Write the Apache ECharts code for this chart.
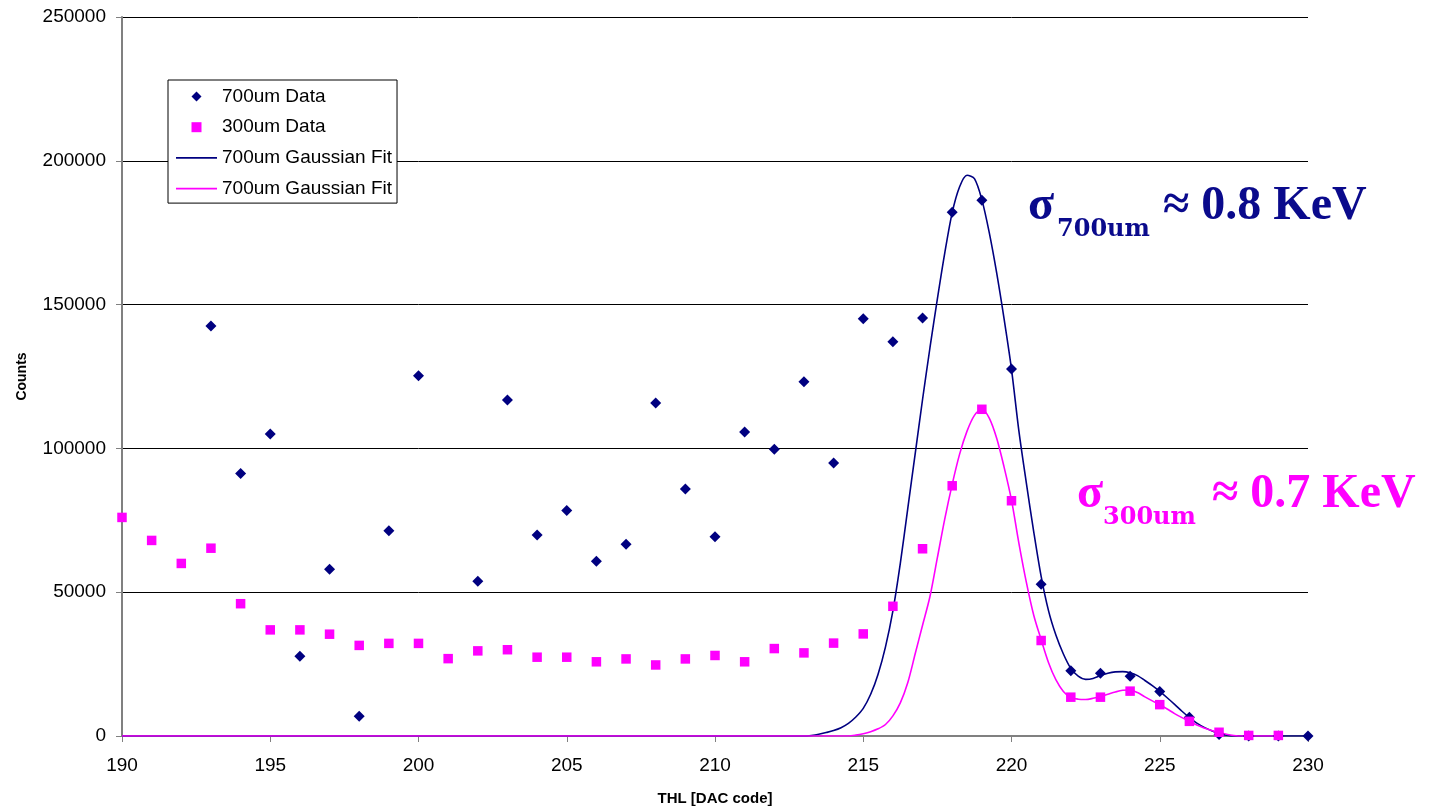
<!DOCTYPE html>
<html>
<head>
<meta charset="utf-8">
<script src="https://cdn.jsdelivr.net/npm/echarts@6/dist/echarts.min.js"></script>
<style>
  html, body { margin: 0; padding: 0; background: #fff; }
  #chart { width: 1430px; height: 811px; }
</style>
</head>
<body>
<div id="chart"></div>
<script>
// THL threshold scan (DAC code) and measured counts per threshold
const thl = [190,191,192,193,194,195,196,197,198,199,200,201,202,203,204,205,206,207,208,209,
             210,211,212,213,214,215,216,217,218,219,220,221,222,223,224,225,226,227,228,229,230];

const counts700 = [null,null,null,142600,91300,105000,27700,58000,6900,71400,125300,null,53800,116800,69900,78400,60800,66700,115800,85900,
                   69300,105700,99700,123200,94900,145100,137100,145300,182100,186300,127600,52800,22700,21800,20800,15500,6500,500,0,0,0];

const counts300 = [76000,68000,60000,65300,46000,36900,36900,35400,31500,32200,32200,26900,29600,30000,27400,27400,25800,26800,24700,26800,
                   28000,25800,30400,28900,32300,35500,45100,65100,87000,113600,81800,33200,13500,13500,15600,10900,5100,1300,200,200,null];

// Gaussian fit curves, sampled along THL
const fitX = [190,
  213,213.25,213.5,213.75,214,214.25,214.5,214.75,215,215.25,215.5,215.75,216,216.25,216.5,216.75,
  217,217.25,217.5,217.75,218,218.25,218.5,218.75,219,219.25,219.5,219.75,220,220.25,220.5,220.75,
  221,221.25,221.5,221.75,222,222.25,222.5,222.75,223,223.25,223.5,223.75,224,224.25,224.5,224.75,
  225,225.25,225.5,225.75,226,226.25,226.5,226.75,227,227.25,227.5,227.75,228,
  229,230];

const fit700 = [0,
  0,200,600,1200,1900,2900,4400,6600,9600,14500,21500,31000,43500,60000,79000,98000,
  117000,135000,152000,168000,182000,191000,195000,193800,186500,175000,161000,145000,127500,106000,88000,71000,
  55500,43500,35000,28500,23500,20800,19700,20000,21000,21800,22300,22400,22000,21000,19300,17500,
  15500,13300,11000,8600,6400,4500,3000,1800,900,300,0,0,0,
  0,0];

const fit300 = [0,
  0,0,0,0,0,0,0,300,800,1500,2500,4000,7000,11500,18500,28500,
  38500,48500,62000,75500,87500,98000,106000,111500,113600,110500,103500,93500,82000,67000,53500,42000,
  33500,25500,19500,15500,13400,12800,12700,13100,13700,14500,15300,15900,16000,15100,13600,12200,
  10900,9400,7800,6400,5100,3800,2800,1900,1200,600,200,0,0,
  0,null];

const yTicks = { min: 0, max: 250000, step: 50000 };
const xTicks = { min: 190, max: 230, step: 5 };

const NAVY = '#000080';
const MAGENTA = '#ff00ff';
const SANS = '"Liberation Sans", Arial, sans-serif';
const SERIF = '"Liberation Serif", "Times New Roman", serif';

// legend swatches: marker shapes keep their aspect, fits get a thin bar
const DIAMOND_ICON = 'path://M5.3,0 L10.6,5.3 L5.3,10.6 L0,5.3 Z';
const SQUARE_ICON = 'path://M0,0 L9.4,0 L9.4,9.4 L0,9.4 Z';
const LINE_ICON = 'path://M0,0 L41,0 L41,1.6 L0,1.6 Z';

const pairs = (xs, ys) => xs.map((x, i) => [x, ys[i]]).filter(p => p[1] !== null);

const chart = echarts.init(document.getElementById('chart'), null, { renderer: 'canvas' });

chart.setOption({
  backgroundColor: '#ffffff',
  animation: false,
  grid: { left: 122, right: 122, top: 17, bottom: 74.5, containLabel: false },
  legend: {
    orient: 'vertical',
    left: 168,
    top: 80,
    padding: [7, 5, 5, 8],
    itemWidth: 41,
    itemHeight: 10,
    itemGap: 11.7,
    symbolKeepAspect: true,
    borderColor: '#000',
    borderWidth: 1,
    backgroundColor: '#fff',
    textStyle: { fontFamily: SANS, fontSize: 19, color: '#000' },
    formatter: n => n.trim(),
    data: [
      { name: '700um Data', icon: DIAMOND_ICON },
      { name: '300um Data', icon: SQUARE_ICON },
      { name: '700um Gaussian Fit', icon: LINE_ICON },
      { name: '700um Gaussian Fit ', icon: LINE_ICON }
    ]
  },
  xAxis: {
    type: 'value',
    min: xTicks.min, max: xTicks.max, interval: xTicks.step,
    name: 'THL [DAC code]',
    nameLocation: 'middle',
    nameGap: 55,
    nameTextStyle: { fontFamily: SANS, fontSize: 15, fontWeight: 'bold', color: '#000' },
    axisLine: { lineStyle: { color: '#808080', width: 2 } },
    axisTick: { show: true, inside: false, length: 6, lineStyle: { color: '#808080', width: 1 } },
    axisLabel: { fontFamily: SANS, fontSize: 19, color: '#000', margin: 20 },
    splitLine: { show: false }
  },
  yAxis: {
    type: 'value',
    min: yTicks.min, max: yTicks.max, interval: yTicks.step,
    name: 'Counts',
    nameLocation: 'middle',
    nameGap: 93,
    nameRotate: 90,
    nameTextStyle: { fontFamily: SANS, fontSize: 14, fontWeight: 'bold', color: '#000' },
    axisLine: { show: true, lineStyle: { color: '#808080', width: 2 } },
    axisTick: { show: true, inside: false, length: 6, lineStyle: { color: '#808080', width: 1 } },
    axisLabel: { fontFamily: SANS, fontSize: 19, color: '#000', margin: 16, formatter: v => String(v) },
    splitLine: { show: true, lineStyle: { color: '#000', width: 1 } }
  },
  series: [
    {
      name: '700um Gaussian Fit',
      type: 'line',
      data: pairs(fitX, fit700),
      symbol: 'none',
      smooth: 0.3,
      color: NAVY,
      itemStyle: { color: NAVY },
      lineStyle: { color: NAVY, width: 1.6 },
      z: 2
    },
    {
      name: '700um Gaussian Fit ',
      type: 'line',
      data: pairs(fitX, fit300),
      symbol: 'none',
      smooth: 0.3,
      color: MAGENTA,
      itemStyle: { color: MAGENTA },
      lineStyle: { color: MAGENTA, width: 1.6 },
      z: 3
    },
    {
      name: '700um Data',
      type: 'scatter',
      data: pairs(thl, counts700),
      symbol: 'diamond',
      symbolSize: 11,
      itemStyle: { color: NAVY, opacity: 1 },
      z: 4
    },
    {
      name: '300um Data',
      type: 'scatter',
      data: pairs(thl, counts300),
      symbol: 'rect',
      symbolSize: 9.5,
      itemStyle: { color: MAGENTA, opacity: 1 },
      z: 5
    }
  ],
  graphic: [
    { type: 'text', left: 1028, top: 183, style: { text: 'σ', font: 'bold 48px ' + SERIF, fill: '#0a0a8c' } },
    { type: 'text', left: 1057, top: 218, style: { text: '700um', font: 'bold 24px "DejaVu Serif", serif', fill: '#0a0a8c' } },
    { type: 'text', left: 1163, top: 183, style: { text: '≈ 0.8 KeV', font: 'bold 48px ' + SERIF, fill: '#0a0a8c' } },
    { type: 'text', left: 1077, top: 471, style: { text: 'σ', font: 'bold 48px ' + SERIF, fill: MAGENTA } },
    { type: 'text', left: 1103, top: 506, style: { text: '300um', font: 'bold 24px "DejaVu Serif", serif', fill: MAGENTA } },
    { type: 'text', left: 1212, top: 471, style: { text: '≈ 0.7 KeV', font: 'bold 48px ' + SERIF, fill: MAGENTA } }
  ]
});
</script>
</body>
</html>
